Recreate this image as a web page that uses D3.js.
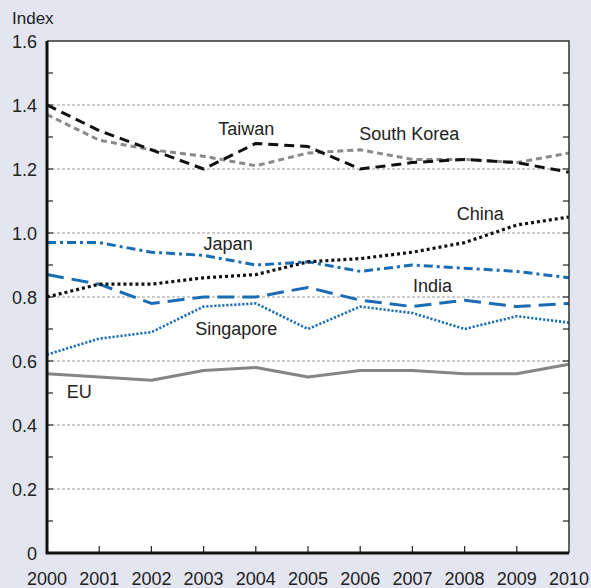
<!DOCTYPE html>
<html>
<head>
<meta charset="utf-8">
<script src="https://cdn.jsdelivr.net/npm/d3@7"></script>
<style>
  body { margin: 0; background: #e3e5f1; }
  svg { display: block; font-family: "Liberation Sans", Arial, Helvetica, sans-serif; }
</style>
</head>
<body>
<svg id="chart" width="591" height="588"></svg>
<script>
const years = [2000, 2001, 2002, 2003, 2004, 2005, 2006, 2007, 2008, 2009, 2010];
const yTicks = [0, 0.2, 0.4, 0.6, 0.8, 1.0, 1.2, 1.4, 1.6];

const taiwan = [1.40, 1.32, 1.26, 1.20, 1.28, 1.27, 1.20, 1.22, 1.23, 1.22, 1.19];
const southKorea = [1.37, 1.29, 1.26, 1.24, 1.21, 1.25, 1.26, 1.23, 1.23, 1.22, 1.25];
const china = [0.80, 0.84, 0.84, 0.86, 0.87, 0.91, 0.92, 0.94, 0.97, 1.025, 1.05];
const japan = [0.97, 0.97, 0.94, 0.93, 0.90, 0.91, 0.88, 0.90, 0.89, 0.88, 0.86];
const india = [0.87, 0.84, 0.78, 0.80, 0.80, 0.83, 0.79, 0.77, 0.79, 0.77, 0.78];
const singapore = [0.62, 0.67, 0.69, 0.77, 0.78, 0.70, 0.77, 0.75, 0.70, 0.74, 0.72];
const eu = [0.56, 0.55, 0.54, 0.57, 0.58, 0.55, 0.57, 0.57, 0.56, 0.56, 0.59];

const blue = '#1a6db5';

// series styles; label anchor (lx, ly) in data units, at text baseline
const series = [
  { name: 'EU', values: eu, color: '#858585', dash: null, width: 3, lx: 2000.38, ly: 0.484 },
  { name: 'Singapore', values: singapore, color: blue, dash: '2.2,1.8', width: 2.6, lx: 2002.84, ly: 0.681 },
  { name: 'India', values: india, color: blue, dash: '17,8', width: 3, lx: 2007.01, ly: 0.816 },
  { name: 'Japan', values: japan, color: blue, dash: '9,4,3,4', width: 3, lx: 2003.0, ly: 0.947 },
  { name: 'China', values: china, color: '#111', dash: '3,3', width: 3.2, lx: 2007.85, ly: 1.04 },
  { name: 'South Korea', values: southKorea, color: '#8a8a8a', dash: '6,4', width: 3, lx: 2005.98, ly: 1.29 },
  { name: 'Taiwan', values: taiwan, color: '#111', dash: '10,6', width: 3, lx: 2003.28, ly: 1.306 },
];

const margin = { top: 41, right: 22, bottom: 35, left: 47 };
const width = 591 - margin.left - margin.right;
const height = 588 - margin.top - margin.bottom;

const svg = d3.select('#chart');
const g = svg.append('g').attr('transform', `translate(${margin.left},${margin.top})`);

const x = d3.scaleLinear().domain([2000, 2010]).range([0, width]);
const y = d3.scaleLinear().domain([0, 1.6]).range([height, 0]);

g.append('rect')
  .attr('width', width)
  .attr('height', height)
  .attr('fill', '#fff');

// dotted gridlines
g.append('g')
  .selectAll('line')
  .data(yTicks.filter((d) => d > 0 && d < 1.6))
  .join('line')
  .attr('x1', 0)
  .attr('x2', width)
  .attr('y1', (d) => y(d))
  .attr('y2', (d) => y(d))
  .attr('stroke', '#999')
  .attr('stroke-width', 1)
  .attr('stroke-dasharray', '3,2');

// minor ticks, left and right, pointing inward
const minor = d3.range(1, 16).map((d) => d / 10);
g.append('g')
  .selectAll('line')
  .data(minor)
  .join('line')
  .attr('x1', 0)
  .attr('x2', 6)
  .attr('y1', (d) => y(d))
  .attr('y2', (d) => y(d))
  .attr('stroke', '#222')
  .attr('stroke-width', 1.2);
g.append('g')
  .selectAll('line')
  .data(minor)
  .join('line')
  .attr('x1', width)
  .attr('x2', width - 6)
  .attr('y1', (d) => y(d))
  .attr('y2', (d) => y(d))
  .attr('stroke', '#222')
  .attr('stroke-width', 1.2);

// year ticks along bottom
g.append('g')
  .selectAll('line')
  .data(years.slice(1, -1))
  .join('line')
  .attr('x1', (d) => x(d))
  .attr('x2', (d) => x(d))
  .attr('y1', height)
  .attr('y2', height - 7)
  .attr('stroke', '#222')
  .attr('stroke-width', 1.2);

// lines
const line = d3.line()
  .x((d, i) => x(years[i]))
  .y((d) => y(d));

g.append('g')
  .selectAll('path')
  .data(series)
  .join('path')
  .attr('d', (d) => line(d.values))
  .attr('fill', 'none')
  .attr('stroke', (d) => d.color)
  .attr('stroke-width', (d) => d.width)
  .attr('stroke-dasharray', (d) => d.dash)
  .attr('stroke-linejoin', 'round');

// series labels
g.append('g')
  .selectAll('text')
  .data(series)
  .join('text')
  .attr('x', (d) => x(d.lx))
  .attr('y', (d) => y(d.ly))
  .attr('font-size', 18)
  .attr('fill', '#222')
  .text((d) => d.name);

// frame: thin top/right, heavy left/bottom
g.append('path')
  .attr('d', `M0,0H${width}V${height}`)
  .attr('fill', 'none')
  .attr('stroke', '#333')
  .attr('stroke-width', 1.5);
g.append('path')
  .attr('d', `M0,0V${height}H${width}`)
  .attr('fill', 'none')
  .attr('stroke', '#111')
  .attr('stroke-width', 3);

// tick labels
g.append('g')
  .selectAll('text')
  .data(yTicks)
  .join('text')
  .attr('x', -10)
  .attr('y', (d) => y(d))
  .attr('dy', '0.38em')
  .attr('text-anchor', 'end')
  .attr('font-size', 18)
  .attr('fill', '#222')
  .text((d) => (d === 0 ? '0' : d3.format('.1f')(d)));

g.append('g')
  .selectAll('text')
  .data(years)
  .join('text')
  .attr('x', (d) => x(d))
  .attr('y', height + 32)
  .attr('text-anchor', 'middle')
  .attr('font-size', 18)
  .attr('fill', '#222')
  .text((d) => d);

svg.append('text')
  .attr('x', 12)
  .attr('y', 24)
  .attr('font-size', 17)
  .attr('fill', '#222')
  .text('Index');
</script>
</body>
</html>
